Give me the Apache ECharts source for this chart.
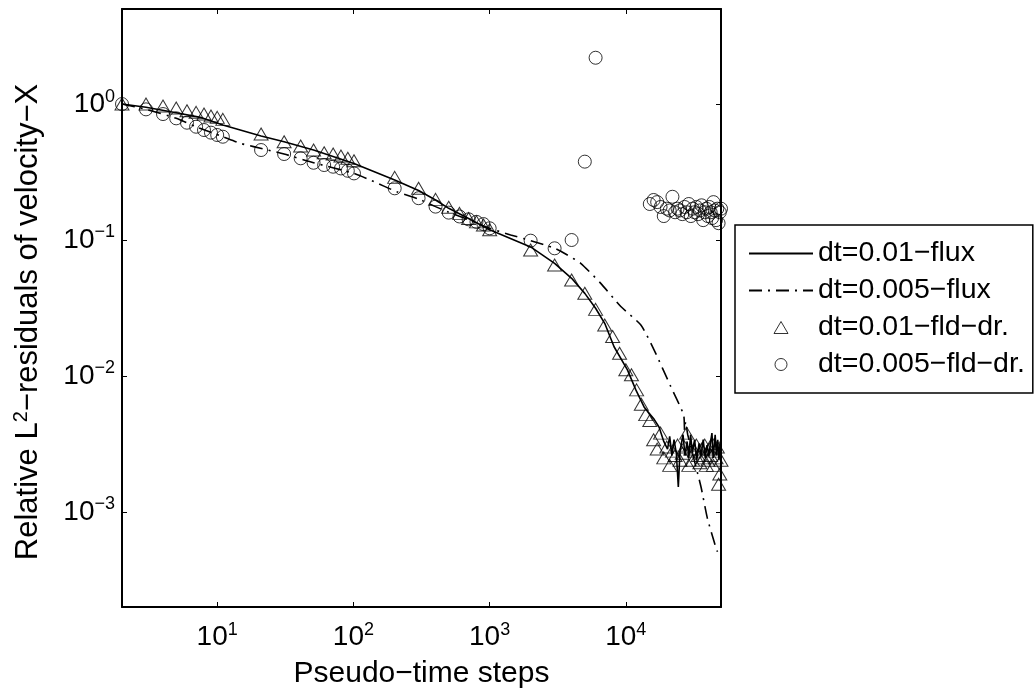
<!DOCTYPE html>
<html><head><meta charset="utf-8">
<script src="https://cdn.jsdelivr.net/npm/echarts@6/dist/echarts.min.js"></script>
<style>html,body{margin:0;padding:0;background:#fff}#c{width:1036px;height:696px}</style>
</head><body><div id="c"></div>
<script>
// ---- axis ranges and tick labels ----
const X_MIN = 2, X_MAX = 50000, Y_MIN = 2e-4, Y_MAX = 5;
const X_TICK_EXPONENTS = [1, 2, 3, 4];
const Y_TICK_EXPONENTS = [-3, -2, -1, 0];
const X_TITLE = 'Pseudo−time steps';
const Y_TITLE_PARTS = ['Relative L', '2', '−residuals of velocity−X'];
const SERIES_NAMES = ['dt=0.01−flux', 'dt=0.005−flux', 'dt=0.01−fld−dr.', 'dt=0.005−fld−dr.'];

// ---- dt=0.01-flux (solid line) ----
const FLUX1_X = [2, 3, 5, 7.5, 11, 21, 31, 51, 101, 201, 301, 401, 501, 701, 1001, 2001, 3001, 4001, 5001, 6001, 7001, 8200, 10280, 11850, 13650, 16150, 17570, 19000, 20250,
  21000, 21800, 22600, 23500, 24300, 25000, 26300, 27200, 28200, 29000, 29900, 30800, 32000, 33200, 34500, 35700, 37000, 38300, 39500, 40800, 42000, 42900, 43800, 45300, 46300, 47300, 48300, 49300, 50000];
const FLUX1_Y = [1.0, 0.946, 0.863, 0.798, 0.701, 0.582, 0.528, 0.459, 0.366, 0.276, 0.231, 0.197, 0.171, 0.144, 0.119, 0.089, 0.0674, 0.0523, 0.0405, 0.0315, 0.0244, 0.0164, 0.0111, 0.0079, 0.0059, 0.0048, 0.0042, 0.0033, 0.0029,
  0.0036, 0.0026, 0.0034, 0.0027, 0.00153, 0.0028, 0.0037, 0.0026, 0.0033, 0.0025, 0.0037, 0.0027, 0.0034, 0.0024, 0.0032, 0.0026, 0.0034, 0.0025, 0.0031, 0.0026, 0.0033, 0.0038, 0.0025, 0.0037, 0.0026, 0.0034, 0.0024, 0.0033, 0.0028];

// ---- dt=0.005-flux (dash-dot line) ----
const FLUX2_X = [2, 3, 5, 7, 11, 14.8, 18.5, 31, 51, 101, 133, 207, 301, 401, 501, 701, 1001, 1427, 2001, 3001, 3725, 4665, 6550, 9190, 12900, 16150, 21400, 26580, 27000, 27500, 28500, 35600, 39700, 45800, 47100];
const FLUX2_Y = [1.0, 0.914, 0.785, 0.681, 0.575, 0.514, 0.486, 0.429, 0.37, 0.309, 0.276, 0.227, 0.2, 0.176, 0.16, 0.141, 0.122, 0.109, 0.0989, 0.087, 0.0776, 0.0674, 0.048, 0.0324, 0.0237, 0.0155, 0.00835, 0.00517, 0.0040, 0.0046, 0.0037, 0.00154, 0.00090, 0.00055, 0.00051];

// ---- dt=0.01-fld-dr. (triangles) ----
const FD1_X = [2, 3, 4, 5, 6, 7, 8, 9, 10, 11, 21, 31, 41, 51, 61, 71, 81, 91, 101, 201, 301, 401, 501, 601, 701, 801, 901, 1001, 2001, 3001, 4001, 5001, 6001, 7001, 8001, 9001, 10001,
  11000, 12000, 13000, 14000, 15000, 16000, 17000, 18000, 19000, 20000, 21000, 22000, 23000, 24000, 25000, 26000, 27000, 28000, 29000, 30000, 31000, 32000, 33000, 34000, 35000, 36000, 37000, 38000, 39000, 40000, 41000, 42000, 43000, 44000, 45000, 46000, 47000, 48000, 49000, 50000];
const FD1_Y = [1.0, 1.0, 0.967, 0.935, 0.893, 0.869, 0.844, 0.816, 0.798, 0.771, 0.602, 0.528, 0.491, 0.459, 0.438, 0.429, 0.415, 0.399, 0.383, 0.289, 0.24, 0.199, 0.174, 0.157, 0.144, 0.136, 0.129, 0.119, 0.0844, 0.0655, 0.0508, 0.0406, 0.0309, 0.0237, 0.0195, 0.0147, 0.0111,
  0.0102, 0.0079, 0.0062, 0.0052, 0.0047, 0.0034, 0.0029, 0.0038, 0.0025, 0.0030, 0.0022, 0.0028, 0.0026, 0.0031, 0.0024, 0.0027, 0.0030, 0.0038, 0.0022, 0.0029, 0.0024, 0.0028, 0.0031, 0.0026, 0.0023, 0.0029, 0.0025, 0.0031, 0.0022, 0.0024, 0.0029, 0.0026, 0.0032, 0.0022, 0.0028, 0.0025, 0.0030, 0.0016, 0.0019, 0.0024];

// ---- dt=0.005-fld-dr. (circles) ----
const FD2_X = [2, 3, 4, 5, 6, 7, 8, 9, 10, 11, 21, 31, 41, 51, 61, 71, 81, 91, 101, 201, 301, 401, 501, 601, 701, 801, 901, 1001, 2001, 3001, 4001, 5001, 6001,
  15000, 16000, 17000, 18000, 19000, 20000, 21000, 22000, 23000, 24000, 25000, 26000, 27000, 28000, 29000, 30000, 31000, 32000, 33000, 34000, 35000, 36000, 37000, 38000, 39000, 40000, 41000, 42000, 43000, 44000, 45000, 46000, 47000, 48000, 49000, 50000];
const FD2_Y = [1.0, 0.914, 0.844, 0.785, 0.729, 0.681, 0.644, 0.616, 0.592, 0.575, 0.459, 0.429, 0.399, 0.37, 0.356, 0.346, 0.336, 0.323, 0.309, 0.24, 0.203, 0.176, 0.159, 0.149, 0.142, 0.136, 0.131, 0.122, 0.0989, 0.0869, 0.1, 0.377, 2.19,
  0.184, 0.197, 0.19, 0.175, 0.15, 0.17, 0.165, 0.208, 0.16, 0.17, 0.165, 0.155, 0.175, 0.16, 0.184, 0.15, 0.17, 0.16, 0.175, 0.155, 0.165, 0.18, 0.14, 0.16, 0.17, 0.15, 0.175, 0.16, 0.145, 0.19, 0.165, 0.14, 0.17, 0.133, 0.16, 0.17];

function pairs(xs, ys) { return xs.map((x, i) => [x, ys[i]]); }

const FONT = 'Liberation Sans';
function powLabel(v, allowed) {
  const l = Math.log10(v), e = Math.round(l);
  if (Math.abs(l - e) > 1e-6 || allowed.indexOf(e) < 0) return '';
  return '{b|10}{s|' + (e < 0 ? '−' + (-e) : e) + '}';
}
const labelRich = {
  b: { fontSize: 28, fontFamily: FONT, color: '#000' },
  s: { fontSize: 18, fontFamily: FONT, color: '#000', padding: [0, 0, 15, 0] }
};
const frameLine = { show: true, lineStyle: { color: '#000', width: 2 } };
const tick = { show: true, inside: true, length: 5, lineStyle: { color: '#000', width: 1 } };
const hollow = { color: 'rgba(0,0,0,0)', borderColor: '#000', borderWidth: 1 };

const chart = echarts.init(document.getElementById('c'), null, { renderer: 'canvas' });
chart.setOption({
  animation: false,
  backgroundColor: '#fff',
  grid: { left: 122, top: 9, width: 599, height: 598 },
  xAxis: [
    { type: 'log', logBase: 10, min: X_MIN, max: X_MAX, position: 'bottom',
      axisLine: frameLine, axisTick: tick, splitLine: { show: false }, minorTick: { show: false },
      axisLabel: { margin: 14, formatter: v => powLabel(v, X_TICK_EXPONENTS), rich: labelRich, showMinLabel: false, showMaxLabel: false },
      name: X_TITLE, nameLocation: 'middle', nameGap: 52,
      nameTextStyle: { fontSize: 30, fontFamily: FONT, color: '#000' } },
    { type: 'log', logBase: 10, min: X_MIN, max: X_MAX, position: 'top',
      axisLine: frameLine, axisTick: tick, splitLine: { show: false }, axisLabel: { show: false } }
  ],
  yAxis: [
    { type: 'log', logBase: 10, min: Y_MIN, max: Y_MAX, position: 'left',
      axisLine: frameLine, axisTick: tick, splitLine: { show: false }, minorTick: { show: false },
      axisLabel: { margin: 7, formatter: v => powLabel(v, Y_TICK_EXPONENTS), rich: labelRich, showMinLabel: false, showMaxLabel: false },
      name: '{a|' + Y_TITLE_PARTS[0] + '}{s|' + Y_TITLE_PARTS[1] + '}{a|' + Y_TITLE_PARTS[2] + '}',
      nameLocation: 'middle', nameGap: 77,
      nameTextStyle: { padding: [0, 28, 0, 0], rich: {
        a: { fontSize: 31, fontFamily: FONT, color: '#000' },
        s: { fontSize: 20, fontFamily: FONT, color: '#000', padding: [0, 0, 14, 0] } } } },
    { type: 'log', logBase: 10, min: Y_MIN, max: Y_MAX, position: 'right',
      axisLine: frameLine, axisTick: tick, splitLine: { show: false }, axisLabel: { show: false } }
  ],
  legend: {
    orient: 'vertical', left: 735, top: 225, selectedMode: false, symbolKeepAspect: true,
    padding: [14, 8, 14, 13], itemGap: 8, itemWidth: 64, itemHeight: 12,
    backgroundColor: '#fff', borderColor: '#000', borderWidth: 1.5,
    textStyle: { fontSize: 28.5, fontFamily: FONT, color: '#000', lineHeight: 28 },
    data: [
      { name: SERIES_NAMES[0], itemStyle: { opacity: 0 } },
      { name: SERIES_NAMES[1], itemStyle: { opacity: 0 } },
      { name: SERIES_NAMES[2], icon: 'path://M7,0L14,12L0,12Z', itemStyle: hollow },
      { name: SERIES_NAMES[3], icon: 'circle', itemStyle: hollow }
    ]
  },
  series: [
    { name: SERIES_NAMES[0], type: 'line', data: pairs(FLUX1_X, FLUX1_Y), symbol: 'none',
      lineStyle: { color: '#000', width: 1.6 }, itemStyle: { color: '#000' }, z: 3 },
    { name: SERIES_NAMES[1], type: 'line', data: pairs(FLUX2_X, FLUX2_Y), symbol: 'none', smooth: 0.2,
      lineStyle: { color: '#000', width: 1.6, type: [13, 6, 2, 6] }, itemStyle: { color: '#000' }, z: 3 },
    { name: SERIES_NAMES[2], type: 'scatter', data: pairs(FD1_X, FD1_Y), symbol: 'triangle', symbolSize: [14, 12],
      itemStyle: hollow, z: 2 },
    { name: SERIES_NAMES[3], type: 'scatter', data: pairs(FD2_X, FD2_Y), symbol: 'circle', symbolSize: 13,
      itemStyle: hollow, z: 2 }
  ]
});
</script></body></html>
